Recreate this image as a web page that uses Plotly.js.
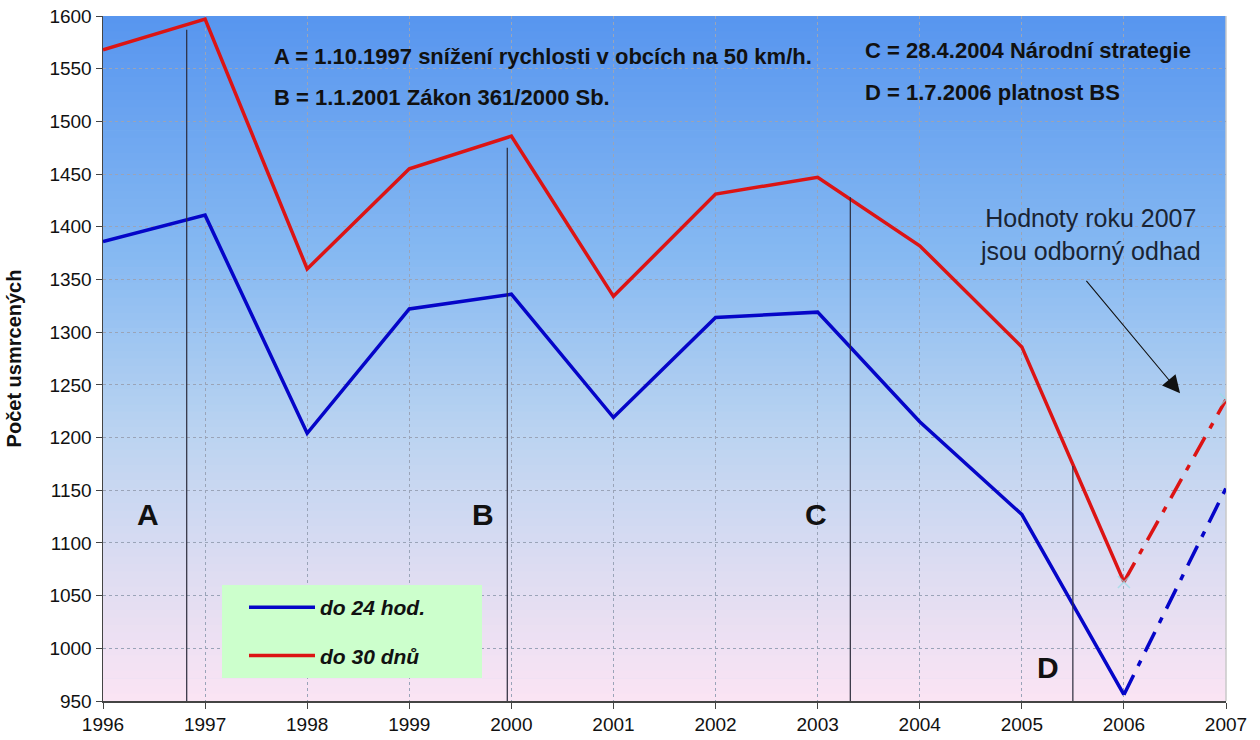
<!DOCTYPE html>
<html>
<head>
<meta charset="utf-8">
<script src="https://cdn.plot.ly/plotly-3.0.1.min.js"></script>
<style>html,body{margin:0;padding:0;background:#fff;}#chart{width:1260px;height:740px;}</style>
</head>
<body>
<div id="chart"></div>
<script>
// ---- data ----
const years = [1996, 1997, 1998, 1999, 2000, 2001, 2002, 2003, 2004, 2005, 2006];
const within24h = [1386, 1411, 1204, 1322, 1336, 1219, 1314, 1319, 1215, 1127, 956];
const within30d = [1568, 1597, 1360, 1455, 1486, 1334, 1431, 1447, 1382, 1286, 1063];
const estYears = [2006, 2007];
const est24h = [956, 1152];
const est30d = [1063, 1236];
const seriesNames = ['do 24 hod.', 'do 30 dnů'];
// event markers (label, x position, top of line)
const eventLabels = ['A', 'B', 'C', 'D'];
const eventX = [1996.82, 1999.96, 2003.32, 2005.5];
const eventTop = [1587, 1475, 1428, 1173];
const eventLabelX = [1996.44, 1999.72, 2002.98, 2005.26];
const eventLabelY = [1127, 1127, 1127, 982];
const eventTexts = [
  'A = 1.10.1997 snížení rychlosti v obcích na 50 km/h.',
  'B = 1.1.2001 Zákon 361/2000 Sb.',
  'C = 28.4.2004 Národní strategie',
  'D = 1.7.2006 platnost BS'
];
const noteText = 'Hodnoty roku 2007<br>jsou odborný odhad';

const BLUE = '#0505c8';
const RED = '#dc1414';

// ---- background gradient bands ----
function hexToRgb(h){return [parseInt(h.substr(1,2),16),parseInt(h.substr(3,2),16),parseInt(h.substr(5,2),16)];}
const stops = [[0,'#5795ef'],[0.35,'#86b9f2'],[0.6,'#b9d3f1'],[0.8,'#dcdcf2'],[1,'#fbe4f3']];
function colorAt(t){
  for(let i=0;i<stops.length-1;i++){
    const [t0,c0]=stops[i],[t1,c1]=stops[i+1];
    if(t>=t0 && t<=t1){
      const f=(t-t0)/(t1-t0), a=hexToRgb(c0), b=hexToRgb(c1);
      return 'rgb('+a.map((v,k)=>Math.round(v+(b[k]-v)*f)).join(',')+')';
    }
  }
  return stops[stops.length-1][1];
}
const shapes = [];
const N = 90;
for(let i=0;i<N;i++){
  const t=(i+0.5)/N;
  shapes.push({type:'rect',xref:'paper',yref:'paper',x0:0,x1:1,y0:1-(i+1)/N-0.001,y1:1-i/N,
    fillcolor:colorAt(t),line:{width:0},layer:'below'});
}
// right border of plot area
shapes.push({type:'line',xref:'paper',yref:'paper',x0:1,x1:1,y0:0,y1:1,line:{color:'#c8c8c8',width:1.5},layer:'below'});
// event lines
for(let i=0;i<eventX.length;i++){
  shapes.push({type:'line',xref:'x',yref:'y',x0:eventX[i],x1:eventX[i],y0:950,y1:eventTop[i],
    line:{color:'#2a2a3a',width:1.2},layer:'above'});
}
// legend box
shapes.push({type:'rect',xref:'paper',yref:'paper',x0:(222-103)/1123,x1:(482-103)/1123,y0:1-(678-16)/685,y1:1-(585-16)/685,
  fillcolor:'#ccffcc',line:{width:0},layer:'above'});

const annotations = [];
for(let i=0;i<eventLabels.length;i++){
  annotations.push({x:eventLabelX[i],y:eventLabelY[i],xref:'x',yref:'y',text:eventLabels[i],showarrow:false,
    font:{family:'Liberation Sans, Arial, sans-serif',size:30,color:'#111',weight:'bold'}});
}
const textFont = {family:'Liberation Sans, Arial, sans-serif',size:22,color:'#111',weight:'bold'};
annotations.push({xref:'paper',yref:'paper',x:(272-103)/1123,y:1-(57-16)/685,xanchor:'left',yanchor:'middle',text:eventTexts[0],showarrow:false,font:textFont});
annotations.push({xref:'paper',yref:'paper',x:(272-103)/1123,y:1-(98-16)/685,xanchor:'left',yanchor:'middle',text:eventTexts[1],showarrow:false,font:textFont});
annotations.push({xref:'paper',yref:'paper',x:(863-103)/1123,y:1-(50-16)/685,xanchor:'left',yanchor:'middle',text:eventTexts[2],showarrow:false,font:textFont});
annotations.push({xref:'paper',yref:'paper',x:(863-103)/1123,y:1-(93-16)/685,xanchor:'left',yanchor:'middle',text:eventTexts[3],showarrow:false,font:textFont});
// note with arrow
annotations.push({xref:'x',yref:'y',x:2005.67,y:1393,text:noteText,showarrow:false,align:'center',
  font:{family:'Liberation Sans, Arial, sans-serif',size:25,color:'#1a2433'}});
annotations.push({xref:'x',yref:'y',axref:'x',ayref:'y',x:2006.55,y:1242,ax:2005.62,ay:1350,text:'',
  showarrow:true,arrowhead:2,arrowsize:3.2,arrowwidth:1.1,arrowcolor:'#111'});

const traces = [
  {x:years,y:within24h,type:'scatter',mode:'lines',name:seriesNames[0],line:{color:BLUE,width:3.5},legendgroup:'a'},
  {x:years,y:within30d,type:'scatter',mode:'lines',name:seriesNames[1],line:{color:RED,width:3.5},legendgroup:'b'},
  {x:estYears,y:est24h,type:'scatter',mode:'lines',showlegend:false,line:{color:BLUE,width:3.5,dash:'22px,10px,6px,10px'}},
  {x:estYears,y:est30d,type:'scatter',mode:'lines+markers',showlegend:false,line:{color:RED,width:3.5,dash:'22px,10px,6px,10px'},
    marker:{symbol:'x-thin-open',size:12,color:'rgba(150,220,230,0.7)',line:{width:1.5,color:'rgba(150,220,230,0.7)'}}}
];

const tickFont = {family:'Liberation Sans, Arial, sans-serif',size:19,color:'#111'};
const layout = {
  width:1260,height:740,
  margin:{l:103,r:34,t:16,b:39},
  paper_bgcolor:'#ffffff',plot_bgcolor:'#a0c8f0',
  showlegend:true,
  legend:{x:(244-103)/1123,y:1-(587-16)/685,xanchor:'left',yanchor:'top',bgcolor:'rgba(0,0,0,0)',borderwidth:0,
    font:{family:'Liberation Sans, Arial, sans-serif',size:21,color:'#111',style:'italic',weight:'bold'},
    tracegroupgap:18,itemwidth:66},
  xaxis:{range:[1996,2007],tickmode:'linear',tick0:1996,dtick:1,showgrid:true,gridcolor:'#9aa4b8',griddash:'dot',gridwidth:1,
    ticks:'outside',ticklen:6,tickcolor:'#444',showline:true,linecolor:'#444',linewidth:1.5,zeroline:false,
    tickfont:tickFont},
  yaxis:{range:[950,1600],tickmode:'linear',tick0:950,dtick:50,showgrid:true,gridcolor:'#9aa4b8',griddash:'dot',gridwidth:1,
    ticks:'outside',ticklen:6,tickcolor:'#444',showline:true,linecolor:'#444',linewidth:1.5,zeroline:false,
    tickfont:tickFont,
    title:{text:'Počet usmrcených',standoff:22,font:{family:'Liberation Sans, Arial, sans-serif',size:20,color:'#111',weight:'bold'}}},
  shapes:shapes,
  annotations:annotations
};
Plotly.newPlot('chart',traces,layout,{displayModeBar:false,staticPlot:true});
</script>
</body>
</html>
